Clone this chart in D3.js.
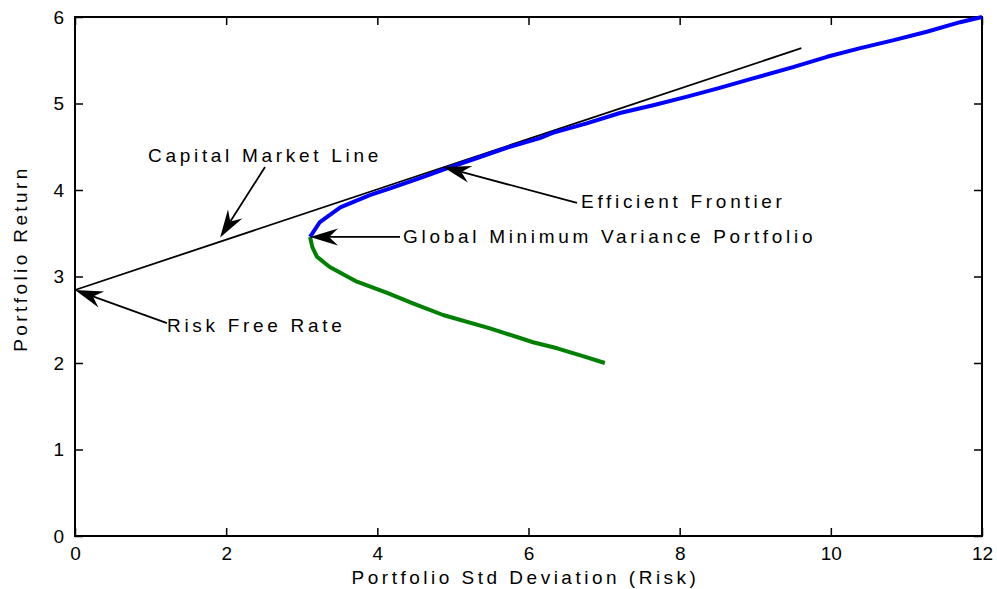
<!DOCTYPE html>
<html>
<head>
<meta charset="utf-8">
<script src="https://cdn.jsdelivr.net/npm/d3@7/dist/d3.min.js"></script>
<style>
body { margin: 0; background: #fff; }
text { font-family: "Liberation Sans", Arial, sans-serif; fill: #000; }
</style>
</head>
<body>
<svg id="chart" width="997" height="589"></svg>
<script>
// Data
const xTicks = [0, 2, 4, 6, 8, 10, 12];
const yTicks = [0, 1, 2, 3, 4, 5, 6];
const efficientRisk   = [3.11, 3.24, 3.51, 3.90, 4.17, 4.60, 4.92, 5.32, 5.72, 6.15, 6.32, 6.77, 7.21, 7.65, 8.10, 8.53, 8.97, 9.50, 9.95, 10.39, 10.82, 11.27, 11.71, 12.0];
const efficientReturn = [3.457, 3.63, 3.80, 3.94, 4.02, 4.15, 4.25, 4.37, 4.49, 4.60, 4.66, 4.77, 4.89, 4.98, 5.08, 5.18, 5.29, 5.42, 5.54, 5.64, 5.73, 5.83, 5.94, 6.0];
const inefficientRisk   = [3.11, 3.14, 3.20, 3.37, 3.73, 4.13, 4.47, 4.87, 5.49, 6.06, 6.38, 6.72, 7.01];
const inefficientReturn = [3.457, 3.34, 3.23, 3.11, 2.94, 2.81, 2.69, 2.555, 2.40, 2.24, 2.17, 2.08, 2.00];
const cmlRisk   = [0, 9.61];
const cmlReturn = [2.844, 5.64];
const labels = ["Capital Market Line", "Efficient Frontier", "Global Minimum Variance Portfolio", "Risk Free Rate"];
const labelPos = [[0.966, 4.324], [6.695, 3.792], [4.34, 3.387], [1.217, 2.358]];
const arrowTail = [[2.514, 4.266], [6.642, 3.850], [4.30, 3.457], [1.217, 2.462]];
const arrowHead = [[1.92, 3.45], [4.869, 4.266], [3.11, 3.457], [0, 2.844]];

const svg = d3.select("#chart");
const L = 75, R = 982, T = 17, B = 536;
const x = d3.scaleLinear().domain([0, 12]).range([L, R]);
const y = d3.scaleLinear().domain([0, 6]).range([B, T]);
const tickLen = 8;
const fmt = d3.format("d");

// axes (ticks inside, on all four sides)
const gx = svg.append("g").attr("transform", `translate(0,${B})`)
  .call(d3.axisBottom(x).tickValues(xTicks).tickFormat(fmt).tickSize(-tickLen).tickPadding(11));
const gxt = svg.append("g").attr("transform", `translate(0,${T})`)
  .call(d3.axisTop(x).tickValues(xTicks).tickSize(-tickLen).tickFormat(""));
const gy = svg.append("g").attr("transform", `translate(${L},0)`)
  .call(d3.axisLeft(y).tickValues(yTicks).tickFormat(fmt).tickSize(-tickLen).tickPadding(11));
const gyr = svg.append("g").attr("transform", `translate(${R},0)`)
  .call(d3.axisRight(y).tickValues(yTicks).tickSize(-tickLen).tickFormat(""));
[gx, gxt, gy, gyr].forEach(g => {
  g.select(".domain").remove();
  g.selectAll(".tick line").attr("stroke", "#000").attr("stroke-width", 1.5);
  g.selectAll("text").attr("font-size", 19).attr("font-family", "Liberation Sans, Arial, sans-serif").attr("fill", "#000");
});

svg.append("rect").attr("x", L).attr("y", T).attr("width", R - L).attr("height", B - T)
  .attr("fill", "none").attr("stroke", "#000").attr("stroke-width", 2);

const line = d3.line().x(d => x(d[0])).y(d => y(d[1]));

// CML
svg.append("path").datum(d3.zip(cmlRisk, cmlReturn)).attr("d", line)
  .attr("fill", "none").attr("stroke", "#000").attr("stroke-width", 1.8);
// inefficient part
svg.append("path").datum(d3.zip(inefficientRisk, inefficientReturn)).attr("d", line)
  .attr("fill", "none").attr("stroke", "#008000").attr("stroke-width", 4).attr("stroke-linejoin", "round");
// efficient frontier
svg.append("path").datum(d3.zip(efficientRisk, efficientReturn)).attr("d", line)
  .attr("fill", "none").attr("stroke", "#0000ff").attr("stroke-width", 4).attr("stroke-linejoin", "round");

// annotations
labels.forEach((lab, i) => {
  const tx = x(arrowTail[i][0]), ty = y(arrowTail[i][1]);
  const hx = x(arrowHead[i][0]), hy = y(arrowHead[i][1]);
  const dx = tx - hx, dy = ty - hy, len = Math.hypot(dx, dy);
  const ux = dx / len, uy = dy / len, px = -uy, py = ux;
  const hl = 28, hw = 8.5, notch = 19;
  svg.append("line").attr("x1", tx).attr("y1", ty)
    .attr("x2", hx + ux * notch).attr("y2", hy + uy * notch)
    .attr("stroke", "#000").attr("stroke-width", 1.8);
  const pts = [
    [hx, hy],
    [hx + ux * hl + px * hw, hy + uy * hl + py * hw],
    [hx + ux * notch, hy + uy * notch],
    [hx + ux * hl - px * hw, hy + uy * hl - py * hw]
  ];
  svg.append("polygon").attr("points", pts.map(p => p.join(",")).join(" ")).attr("fill", "#000");
  svg.append("text").attr("x", x(labelPos[i][0])).attr("y", y(labelPos[i][1]))
    .attr("font-size", 19).attr("letter-spacing", "3.7px").text(lab);
});

// axis labels
svg.append("text").attr("x", (L + R) / 2 - 3).attr("y", 584).attr("text-anchor", "middle")
  .attr("font-size", 19).attr("letter-spacing", "3.5px").text("Portfolio Std Deviation (Risk)");
svg.append("text").attr("transform", `translate(27,${(T + B) / 2 - 18}) rotate(-90)`)
  .attr("text-anchor", "middle").attr("font-size", 19).attr("letter-spacing", "3.4px").text("Portfolio Return");
</script>
</body>
</html>
